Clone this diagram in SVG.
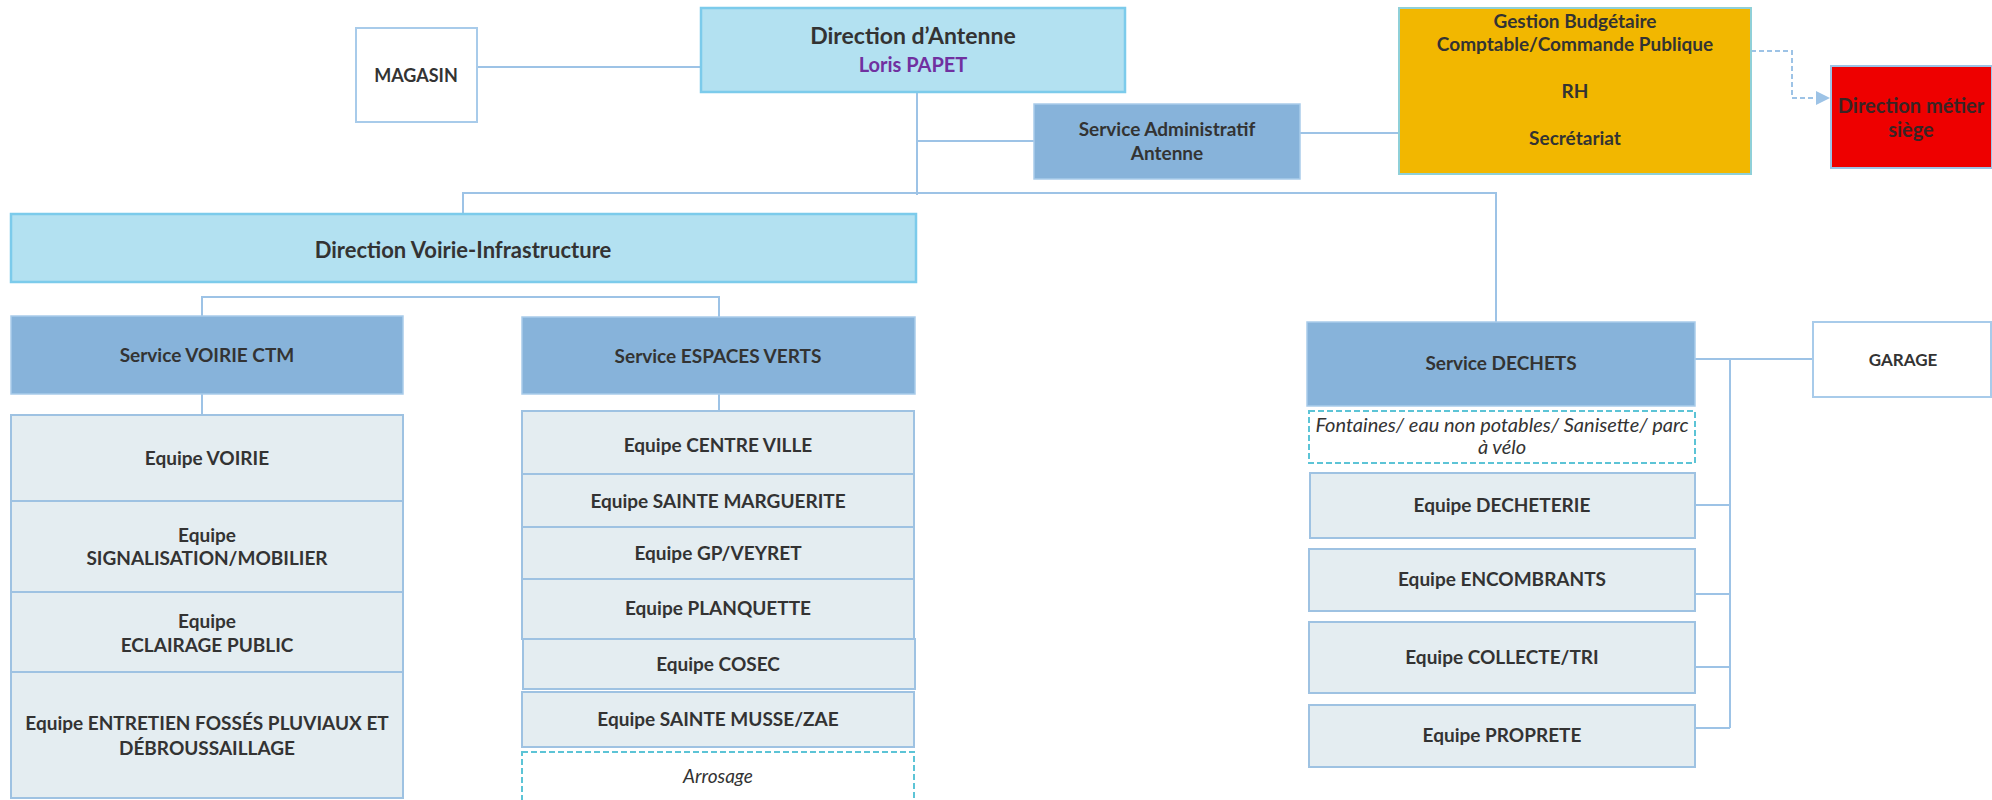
<svg xmlns="http://www.w3.org/2000/svg" width="1992" height="800" viewBox="0 0 1992 800">
<defs>
<style>
text{font-family:Lato,"Open Sans","Liberation Sans",sans-serif;font-weight:bold;fill:#333;text-anchor:middle}
.dir{fill:#B3E1F1;stroke:#7CCBEB;stroke-width:2.5}
.svc{fill:#87B3DA;stroke:#A9CCEA;stroke-width:1.5}
.eq{fill:#E4EDF1;stroke:#9EC2E2;stroke-width:2}
.wb{fill:#fff;stroke:#A8CBEA;stroke-width:2}
.dash{fill:#fff;stroke:#5CC4D6;stroke-width:2;stroke-dasharray:6 3}
.ln{fill:none;stroke:#9DC3E6;stroke-width:2}
.it{font-style:italic;font-weight:normal}
.t23{font-size:23px}.t22{font-size:22px}.t20{font-size:20px}.t19{font-size:19px}.t18{font-size:18px}.t17{font-size:17px}
</style>
</defs>
<rect width="1992" height="800" fill="#fff"/>
<g id="connectors">
<path class="ln" d="M477,67H701"/>
<path class="ln" d="M917,92V195M917,141H1034"/>
<path class="ln" d="M1300,133H1399"/>
<path class="ln" d="M463,214V193H1497M1496,193V322"/>
<path class="ln" d="M202,316V297H719V317"/>
<path class="ln" d="M202,394V415"/>
<path class="ln" d="M719,394V411"/>
<path class="ln" d="M1695,359H1813M1730,359V728M1695,505H1730M1695,594H1730M1695,667H1730M1695,728H1730"/>
<path class="ln" d="M1751,51H1792V98H1817" stroke-dasharray="5 3"/>
<polygon points="1816,91 1830,98 1816,105" fill="#9DC3E6"/>
</g>
<g id="direction-antenne">
<rect class="dir" x="701" y="8" width="424" height="84"/>
<text class="t23" x="913" y="44">Direction d’Antenne</text>
<text class="t20" x="913" y="72" style="fill:#7030A0">Loris PAPET</text>
</g>
<g id="magasin">
<rect class="wb" x="356" y="28" width="121" height="94"/>
<text class="t18" x="416" y="82">MAGASIN</text>
</g>
<g id="service-administratif">
<rect class="svc" x="1034" y="104" width="266" height="75"/>
<text class="t19" x="1167" y="136">Service Administratif</text>
<text class="t19" x="1167" y="160">Antenne</text>
</g>
<g id="gestion">
<rect x="1399" y="8" width="352" height="166" fill="#F2B700" stroke="#8FD0D8" stroke-width="2"/>
<text class="t19" x="1575" y="28">Gestion Budgétaire</text>
<text class="t19" x="1575" y="51">Comptable/Commande Publique</text>
<text class="t19" x="1575" y="98">RH</text>
<text class="t19" x="1575" y="145">Secrétariat</text>
</g>
<g id="direction-metier">
<rect x="1831" y="66" width="161" height="102" fill="#EE0000" stroke="#9CC3E6" stroke-width="2"/>
<text class="t20" x="1911" y="113" style="fill:#3A2424">Direction métier</text>
<text class="t20" x="1911" y="137" style="fill:#3A2424">siège</text>
</g>
<g id="direction-voirie">
<rect class="dir" x="11" y="214" width="905" height="68"/>
<text class="t22" x="463" y="258">Direction Voirie-Infrastructure</text>
</g>
<g id="service-voirie">
<rect class="svc" x="11" y="316" width="392" height="78"/>
<text class="t19" x="207" y="362">Service VOIRIE CTM</text>
</g>
<g id="equipe-voirie">
<rect class="eq" x="11" y="415" width="392" height="86"/>
<text class="t19" x="207" y="465">Equipe VOIRIE</text>
</g>
<g id="equipe-signalisation">
<rect class="eq" x="11" y="501" width="392" height="91"/>
<text class="t19" x="207" y="542">Equipe</text>
<text class="t19" x="207" y="565">SIGNALISATION/MOBILIER</text>
</g>
<g id="equipe-eclairage">
<rect class="eq" x="11" y="592" width="392" height="80"/>
<text class="t19" x="207" y="628">Equipe</text>
<text class="t19" x="207" y="652">ECLAIRAGE PUBLIC</text>
</g>
<g id="equipe-entretien">
<rect class="eq" x="11" y="672" width="392" height="126"/>
<text class="t19" x="207" y="730">Equipe ENTRETIEN FOSSÉS PLUVIAUX ET</text>
<text class="t19" x="207" y="755">DÉBROUSSAILLAGE</text>
</g>
<g id="service-espaces-verts">
<rect class="svc" x="522" y="317" width="393" height="77"/>
<text class="t19" x="718" y="363">Service ESPACES VERTS</text>
</g>
<g id="equipe-centre-ville">
<rect class="eq" x="522" y="411" width="392" height="63"/>
<text class="t19" x="718" y="452">Equipe CENTRE VILLE</text>
</g>
<g id="equipe-sainte-marguerite">
<rect class="eq" x="522" y="474" width="392" height="53"/>
<text class="t19" x="718" y="508">Equipe SAINTE MARGUERITE</text>
</g>
<g id="equipe-gp-veyret">
<rect class="eq" x="522" y="527" width="392" height="52"/>
<text class="t19" x="718" y="560">Equipe GP/VEYRET</text>
</g>
<g id="equipe-planquette">
<rect class="eq" x="522" y="579" width="392" height="60"/>
<text class="t19" x="718" y="615">Equipe PLANQUETTE</text>
</g>
<g id="equipe-cosec">
<rect class="eq" x="523" y="639" width="392" height="50"/>
<text class="t19" x="718" y="671">Equipe COSEC</text>
</g>
<g id="equipe-sainte-musse">
<rect class="eq" x="522" y="692" width="392" height="55"/>
<text class="t19" x="718" y="726">Equipe SAINTE MUSSE/ZAE</text>
</g>
<g id="arrosage">
<rect class="dash" x="522" y="752" width="392" height="60"/>
<text class="t19 it" x="718" y="783">Arrosage</text>
</g>
<g id="service-dechets">
<rect class="svc" x="1307" y="322" width="388" height="84"/>
<text class="t19" x="1501" y="370">Service DECHETS</text>
</g>
<g id="fontaines">
<rect class="dash" x="1309" y="411" width="386" height="52"/>
<text class="t20 it" x="1502" y="432">Fontaines/ eau non potables/ Sanisette/ parc</text>
<text class="t20 it" x="1502" y="454">à vélo</text>
</g>
<g id="equipe-decheterie">
<rect class="eq" x="1310" y="473" width="385" height="65"/>
<text class="t19" x="1502" y="512">Equipe DECHETERIE</text>
</g>
<g id="equipe-encombrants">
<rect class="eq" x="1309" y="549" width="386" height="62"/>
<text class="t19" x="1502" y="586">Equipe ENCOMBRANTS</text>
</g>
<g id="equipe-collecte">
<rect class="eq" x="1309" y="622" width="386" height="71"/>
<text class="t19" x="1502" y="664">Equipe COLLECTE/TRI</text>
</g>
<g id="equipe-proprete">
<rect class="eq" x="1309" y="705" width="386" height="62"/>
<text class="t19" x="1502" y="742">Equipe PROPRETE</text>
</g>
<g id="garage">
<rect class="wb" x="1813" y="322" width="178" height="75"/>
<text class="t17" x="1903" y="366">GARAGE</text>
</g>
</svg>
